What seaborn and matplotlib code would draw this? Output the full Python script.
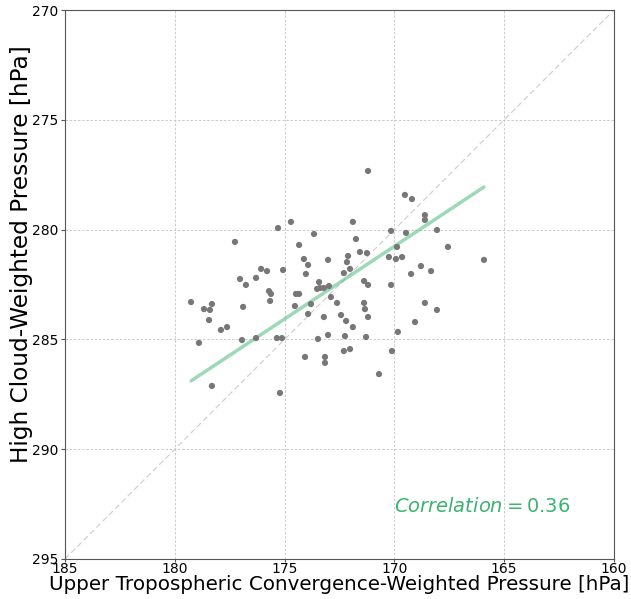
import matplotlib
matplotlib.use("Agg")
import matplotlib.pyplot as plt
import seaborn as sns
import pandas as pd

# Upper tropospheric convergence-weighted pressure [hPa]
conv_p = [175.30, 174.71, 177.26, 174.34, 176.07, 175.80, 175.07, 177.03, 176.30, 176.76,
          175.71, 175.62, 174.48, 174.34, 179.26, 178.31, 178.67, 178.40, 176.89, 175.66,
          174.53, 178.44, 177.90, 177.62, 178.90, 176.94, 176.30, 175.35, 175.12, 178.31,
          175.21, 171.20, 171.89, 170.15, 173.66, 171.75, 171.57, 171.25, 174.12, 172.11,
          169.88, 173.93, 173.02, 172.16, 170.25, 169.93, 172.02, 174.03, 172.30, 173.43,
          171.38, 171.20, 170.15, 173.52, 173.39, 173.21, 172.98, 173.80, 172.89, 172.61,
          171.38, 171.34, 173.93, 172.43, 173.21, 171.20, 172.20, 171.89, 169.84, 173.02,
          172.25, 171.29, 173.48, 172.30, 172.02, 170.11, 174.07, 173.16, 173.16, 170.70,
          169.52, 169.20, 168.61, 168.61, 169.47, 168.06, 167.56, 169.65, 165.92, 168.79,
          168.33, 169.24, 168.61, 168.06, 169.06]

# High cloud-weighted pressure [hPa]
cloud_p = [279.93, 279.65, 280.56, 280.70, 281.79, 281.89, 281.84, 282.25, 282.20, 282.52,
           282.80, 282.93, 282.93, 282.93, 283.30, 283.39, 283.62, 283.66, 283.52, 283.25,
           283.48, 284.12, 284.57, 284.44, 285.16, 285.03, 284.94, 284.94, 284.94, 287.12,
           287.44, 277.33, 279.65, 280.06, 280.20, 280.43, 281.02, 281.07, 281.34, 281.20,
           280.79, 281.61, 281.38, 281.48, 281.25, 281.34, 281.79, 282.02, 281.98, 282.39,
           282.34, 282.52, 282.52, 282.70, 282.66, 282.66, 282.57, 283.39, 283.07, 283.34,
           283.34, 283.62, 283.84, 283.89, 283.98, 283.98, 284.16, 284.44, 284.66, 284.80,
           284.85, 284.89, 284.98, 285.53, 285.44, 285.53, 285.80, 285.80, 286.07, 286.58,
           278.42, 278.61, 279.34, 279.56, 280.15, 280.02, 280.79, 281.25, 281.38, 281.66,
           281.89, 282.02, 283.34, 283.66, 284.21]

# Fitted trend line end points
trend_x = [179.26, 165.92]
trend_y = [286.89, 278.06]

# One-to-one reference line
diag_x = [185, 160]
diag_y = [295, 270]

x_ticks = [185, 180, 175, 170, 165, 160]
y_ticks = [270, 275, 280, 285, 290, 295]

corr_value = 0.36

df = pd.DataFrame({"conv": conv_p, "cloud": cloud_p})

sns.set_style("whitegrid", {
    "grid.linestyle": (0, (3, 2)),
    "grid.color": "#c4c4c4",
    "axes.edgecolor": "#555555",
    "xtick.bottom": True,
    "ytick.left": True,
    "text.color": "black",
    "xtick.color": "#555555",
    "ytick.color": "#555555",
})
plt.rcParams["font.family"] = ["DejaVu Sans"]

fig = plt.figure(figsize=(6.31, 5.99), dpi=100)
ax = fig.add_axes([0.103, 0.0668, 0.870, 0.9165])

sns.lineplot(x=diag_x, y=diag_y, ax=ax, color="#cccccc", linestyle=(0, (5, 3)),
             linewidth=0.8, sort=False, zorder=1)
sns.scatterplot(data=df, x="conv", y="cloud", ax=ax, color="#777777", s=20,
                edgecolor="none", zorder=3)
sns.lineplot(x=trend_x, y=trend_y, ax=ax, color="mediumseagreen", alpha=0.5,
             linewidth=2.5, sort=False, zorder=2)

ax.set_xlim(185, 160)
ax.set_ylim(295, 270)
ax.set_xticks(x_ticks)
ax.set_yticks(y_ticks)
ax.grid(True, linewidth=0.6)
ax.tick_params(axis="both", labelsize=10, labelcolor="black")
ax.tick_params(axis="x", length=2, pad=0)
ax.tick_params(axis="y", length=3, pad=2)

ax.set_xlabel("Upper Tropospheric Convergence-Weighted Pressure [hPa]", fontsize=14.3,
              color="black")
ax.set_ylabel("High Cloud-Weighted Pressure [hPa]", fontsize=16.7, color="black")
ax.xaxis.set_label_coords(0.5, -0.029)
ax.yaxis.set_label_coords(-0.058, 0.556)

ax.text(170.0, 292.6, r"$Correlation = %.2f$" % corr_value, color="mediumseagreen",
        fontsize=14, ha="left", va="center")

fig.savefig("out.png", dpi=100)
